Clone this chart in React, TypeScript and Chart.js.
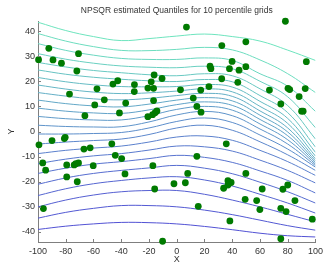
import React, { useEffect, useRef } from "react";
import { Chart, registerables } from "chart.js";

Chart.register(...registerables);

const TITLE = "NPSQR estimated Quantiles for 10 percentile grids";
const X_LABEL = "X";
const Y_LABEL = "Y";

const X_TICKS = [-100, -80, -60, -40, -20, 0, 20, 40, 60, 80, 100];
const Y_TICKS = [-40, -30, -20, -10, 0, 10, 20, 30, 40];

// x positions where the quantile curves are sampled
const GRID_X = [-100, -80, -60, -40, -20, 0, 20, 40, 60, 80, 100];

// quantile curves, bottom to top
const Q01 = [-39, -37.7, -36.8, -36.2, -36.3, -36.8, -37.8, -39.1, -40.5, -41.5, -42];
const Q02 = [-34.5, -32.2, -30.6, -29.5, -29.5, -30, -31.3, -33.1, -35.3, -37.5, -39.3];
const Q03 = [-30, -27.3, -25.3, -24, -23.5, -23.5, -25, -27.3, -30, -33, -36];
const Q04 = [-25.5, -22.8, -20.8, -19.5, -18.5, -18, -19.3, -21.7, -25, -28.5, -32.5];
const Q05 = [-21, -18.5, -16.7, -15.5, -14.5, -13.5, -14.6, -16.8, -20.2, -24, -28.5];
const Q06 = [-16.7, -14.6, -13, -12, -10.8, -9.5, -10.3, -12.3, -15.7, -19.5, -24.5];
const Q07 = [-12.8, -11, -9.7, -8.8, -7.4, -5.8, -6.1, -7.8, -11.4, -15.5, -20.5];
const Q08 = [-8.8, -7.5, -6.6, -5.8, -4.2, -2.2, -1.8, -3.5, -7.5, -12, -17.5];
const Q09 = [-5, -4.2, -3.6, -3, -1.2, 1.4, 2.5, 0.5, -4.1, -9.3, -15.5];
const Q10 = [-1, -1, -0.8, -0.4, 1.4, 4, 5.4, 3.6, -1.4, -7, -14.2];
const Q11 = [2.5, 2, 1.8, 1.9, 3.8, 6.6, 8, 6.3, 1, -5, -13.6];
const Q12 = [6, 5.1, 4.6, 4.6, 6.3, 8.8, 10, 8.5, 3, -3.3, -13];
const Q13 = [9.3, 8.1, 7.4, 7.2, 8.6, 10.7, 11.8, 10.4, 4.8, -1.7, -12.4];
const Q14 = [12.5, 11.1, 10.2, 9.8, 10.9, 12.5, 13.5, 12.2, 6.5, -0.2, -11.7];
const Q15 = [15.5, 14.1, 13, 12.6, 13.2, 14.3, 15.2, 14, 8.2, 1.4, -10.9];
const Q16 = [18.5, 16.9, 15.7, 15.1, 15.4, 16.1, 17, 15.8, 10, 3.2, -9.8];
const Q17 = [21.5, 19.8, 18.6, 17.9, 17.8, 17.9, 18.7, 17.7, 12, 5.2, -8.3];
const Q18 = [24.5, 22.8, 21.6, 20.8, 20.2, 19.9, 20.7, 19.8, 14.3, 7.5, -6.2];
const Q19 = [27.5, 25.7, 24.3, 23.4, 22.6, 22.2, 23, 22.2, 17, 10.3, -3];
const Q20 = [31, 28.8, 27.2, 26.1, 25.6, 25.4, 26, 25, 20, 13.8, 1.5];
const Q21 = [35, 32.3, 30.4, 29.1, 28.7, 28.7, 29.3, 28.3, 23, 18, 8];
const Q22 = [39, 36, 33.8, 32.3, 32.2, 32.7, 33.5, 32.5, 28.5, 23, 15.5];
const Q23 = [43.5, 40.2, 37.8, 36.2, 37, 38, 38.8, 37.8, 36, 32.4, 28.3];

const CURVES = [Q01, Q02, Q03, Q04, Q05, Q06, Q07, Q08, Q09, Q10, Q11, Q12, Q13, Q14, Q15, Q16, Q17, Q18, Q19, Q20, Q21, Q22, Q23];

// observations
const PTS_X = [
  7, 78.3, -99.6, -92.2, -89.2, -83.1, -70.8, -72, 32.5, 49.8, 93.4, 24, 24.6, 39.9, 38, 44.9, 49.8,
  32.4, 44, -16.3, -18.4, -10.6, -30.5, -42.5, -46, -57.5, 23.2, 66.8, 80.2, 81.4, 92.6, 2.7, 17.3,
  -20.8, -16.7, -77.3, -30.6, -52.2, -59.1, -66.2, -36.8, -41.3, -16.7, -20.8, -17.4, -15.6, -14.3,
  11.9, 14.5, 17.5, 75, 88.2, 90, 91.1,
  -99.3, -89.9, -81, -80.4, -66.9, -62.4, -46.8, -44.3, -39.7, 35.7, 14.5, -96.6, -94.5, -79.3, -79.3,
  -73.9, -72.7, -70.8, -71.7, -60.2, -17.2, -37.3, -15.9, -2, 6.2, 7.9, 49.8, 36.9, 39.2, 36.9, 33.8,
  61.6, 76.5, 80, 85.2, 49.3, 57.6, 59.9, 75, 78.8, 15.5, 38.3, 97.7, 75, -10.2, -96.1,
];
const PTS_Y = [
  41.6, 43.9, 28.6, 33.1, 28.5, 27.2, 31, 24.1, 34.2, 35.7, 27.8, 26, 25, 27.9, 25, 24.4, 25.8,
  21, 19.6, 22.5, 19.8, 21.1, 18.7, 20.2, 18.9, 17, 17.9, 16.5, 17.2, 16.7, 17.1, 16.6, 16.5,
  17.3, 17.2, 14.9, 15.9, 12.6, 10.6, 6.3, 11.3, 7.4, 12.3, 5.9, 6.7, 7.5, 8.2,
  13.3, 10, 7.7, 11, 13.9, 8.1, 8.1,
  -5.3, -3.6, -2.8, -2.3, -7, -6.5, -4.9, -9.5, -10.8, -4.9, -9.9, -12.5, -15.4, -13.3, -18.1,
  -13.3, -12.8, -12.5, -20, -13.6, -13.6, -16.9, -22.9, -20.8, -20.4, -16.7, -16.7, -19.6, -20.3, -21.3, -22.6,
  -22.9, -23, -21.3, -27.5, -27, -27.5, -31.1, -30.6, -31.9, -29.8, -35.6, -34.9, -42.7, -43.7, -30.7,
];

const FONT = "'Liberation Sans', Arial, sans-serif";
const TEXT_COLOR = "#333333";
const AXIS_COLOR = "#7f7f7f";

function curveColor(k: number, n: number) {
  const t = n > 1 ? k / (n - 1) : 0;
  const r = Math.round(82 + 28 * t);
  const g = Math.round(82 + 146 * t);
  const b = Math.round(212 - 22 * t);
  return `rgb(${r},${g},${b})`;
}

const decorPlugin = {
  id: "decor",
  afterDraw(chart: any) {
    const { ctx, chartArea, scales } = chart;
    ctx.save();
    ctx.strokeStyle = AXIS_COLOR;
    ctx.lineWidth = 1;
    ctx.beginPath();
    for (const v of X_TICKS) {
      const px = Math.round(scales.x.getPixelForValue(v)) + 0.5;
      ctx.moveTo(px, chartArea.bottom);
      ctx.lineTo(px, chartArea.bottom - 3);
    }
    for (const v of Y_TICKS) {
      const py = Math.round(scales.y.getPixelForValue(v)) + 0.5;
      ctx.moveTo(chartArea.left, py);
      ctx.lineTo(chartArea.left + 3, py);
    }
    ctx.stroke();
    ctx.fillStyle = TEXT_COLOR;
    ctx.font = `8.5px ${FONT}`;
    ctx.textAlign = "center";
    ctx.textBaseline = "middle";
    ctx.fillText(TITLE, (chartArea.left + chartArea.right) / 2, 10.5);
    ctx.font = `9px ${FONT}`;
    ctx.fillText(X_LABEL, (chartArea.left + chartArea.right) / 2, 260);
    ctx.translate(11.5, (chartArea.top + chartArea.bottom) / 2);
    ctx.rotate(-Math.PI / 2);
    ctx.fillText(Y_LABEL, 0, 0);
    ctx.restore();
  },
};

export default function App() {
  const ref = useRef<HTMLCanvasElement | null>(null);

  useEffect(() => {
    if (!ref.current) return;
    const n = CURVES.length;
    const lineSets = CURVES.map((ys, k) => ({
      type: "scatter" as const,
      data: GRID_X.map((x, i) => ({ x, y: ys[i] })),
      showLine: true,
      borderColor: curveColor(k, n),
      backgroundColor: curveColor(k, n),
      borderWidth: 1,
      pointRadius: 0,
      tension: 0.4,
      order: 2,
    }));
    const pointSet = {
      type: "scatter" as const,
      data: PTS_X.map((x, i) => ({ x, y: PTS_Y[i] })),
      showLine: false,
      pointRadius: 3.4,
      pointBackgroundColor: "#007a00",
      pointBorderColor: "#007a00",
      pointBorderWidth: 0,
      clip: false as any,
      order: 0,
    };
    const chart = new Chart(ref.current, {
      type: "scatter",
      data: { datasets: [pointSet as any, ...lineSets] },
      options: {
        animation: false,
        responsive: false,
        maintainAspectRatio: false,
        devicePixelRatio: 1,
        events: [],
        layout: { padding: { top: 21, right: 6, left: 0, bottom: 0 } },
        plugins: {
          legend: { display: false },
          tooltip: { enabled: false },
          title: { display: false },
        },
        scales: {
          x: {
            type: "linear",
            min: -100,
            max: 100,
            afterFit: (s: any) => {
              s.height = 28;
            },
            afterBuildTicks: (s: any) => {
              s.ticks = X_TICKS.map((v) => ({ value: v }));
            },
            grid: { display: false, drawTicks: false },
            border: { display: true, color: AXIS_COLOR, width: 1 },
            ticks: {
              font: { family: FONT, size: 9 },
              color: TEXT_COLOR,
              padding: 4,
              maxRotation: 0,
              autoSkip: false,
            },
          },
          y: {
            type: "linear",
            min: -44,
            max: 44,
            afterFit: (s: any) => {
              s.width = 38;
            },
            afterBuildTicks: (s: any) => {
              s.ticks = Y_TICKS.map((v) => ({ value: v }));
            },
            grid: { display: false, drawTicks: false },
            border: { display: true, color: AXIS_COLOR, width: 1 },
            ticks: {
              font: { family: FONT, size: 9 },
              color: TEXT_COLOR,
              padding: 3,
              autoSkip: false,
            },
          },
        },
      } as any,
      plugins: [decorPlugin],
    });
    return () => chart.destroy();
  }, []);

  return (
    <div style={{ position: "fixed", left: 0, top: 0, width: 327, height: 270, background: "#fff" }}>
      <canvas ref={ref} width={327} height={270} style={{ display: "block", width: 327, height: 270 }} />
    </div>
  );
}
